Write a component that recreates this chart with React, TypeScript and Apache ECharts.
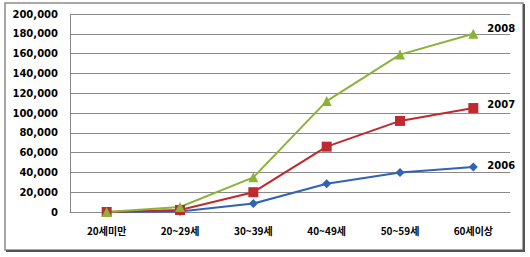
import React, { useEffect, useRef } from "react";
import * as echarts from "echarts";

const categories = ["20세미만", "20~29세", "30~39세", "40~49세", "50~59세", "60세이상"];
const s2006 = [0, 500, 8500, 28500, 40000, 45500];
const s2007 = [0, 2000, 20000, 66000, 92000, 105000];
const s2008 = [0, 5000, 35000, 112000, 159000, 180000];
const seriesNames = ["2006", "2007", "2008"];

const FONT = "'Noto Sans CJK KR', 'DejaVu Sans', sans-serif";

export default function App() {
  const ref = useRef<HTMLDivElement>(null);
  useEffect(() => {
    if (!ref.current) return;
    const chart = echarts.init(ref.current, null, { renderer: "svg" });
    const mk = (name: string, data: number[], color: string, symbol: string, size: number, dy: number) => ({
      name,
      type: "line",
      data,
      symbol,
      symbolSize: size,
      lineStyle: { color, width: 2 },
      itemStyle: { color },
      endLabel: {
        show: true,
        formatter: name,
        color: "#000",
        fontWeight: "bold",
        fontSize: 10,
        fontFamily: "'DejaVu Sans', sans-serif",
        offset: [6, dy],
      },
    });
    chart.setOption({
      animation: false,
      backgroundColor: "#fff",
      grid: { left: 70, right: 20, top: 14, bottom: 45, containLabel: false },
      xAxis: {
        type: "category",
        data: categories,
        boundaryGap: true,
        axisLine: { show: true, lineStyle: { color: "#888", width: 1 } },
        axisTick: { show: false },
        axisLabel: {
          color: "#000",
          fontWeight: "bold",
          fontSize: 10,
          fontFamily: FONT,
          margin: 13,
        },
      },
      yAxis: {
        type: "value",
        min: 0,
        max: 200000,
        interval: 20000,
        axisLine: { show: true, lineStyle: { color: "#888", width: 1 } },
        axisTick: { show: false },
        splitLine: { lineStyle: { color: "#8a8a8a", width: 1 } },
        axisLabel: {
          color: "#000",
          fontWeight: "bold",
          fontSize: 10,
          fontFamily: "'DejaVu Sans', sans-serif",
          margin: 12,
          formatter: (v: number) => v.toLocaleString("en-US"),
        },
      },
      graphic: [
        {
          type: "rect",
          shape: { x: 5, y: 3, width: 518, height: 247 },
          style: { fill: "none", stroke: "#8c8c8c", lineWidth: 1.5 },
          z: 10,
        },
        {
          type: "line",
          shape: { x1: 524, y1: 4, x2: 524, y2: 251 },
          style: { stroke: "#555", lineWidth: 2 },
          z: 10,
        },
        {
          type: "line",
          shape: { x1: 6, y1: 251, x2: 525, y2: 251 },
          style: { stroke: "#555", lineWidth: 2 },
          z: 10,
        },
      ],
      series: [
        mk(seriesNames[0], s2006, "#2f62b8", "diamond", 9, -1),
        mk(seriesNames[1], s2007, "#be2a2e", "rect", 10, -4),
        mk(seriesNames[2], s2008, "#8ab338", "triangle", 10, -5),
      ],
    });
    return () => chart.dispose();
  }, []);
  return (
    <div
      ref={ref}
      style={{ position: "fixed", left: 0, top: 0, width: 530, height: 257 }}
    />
  );
}
